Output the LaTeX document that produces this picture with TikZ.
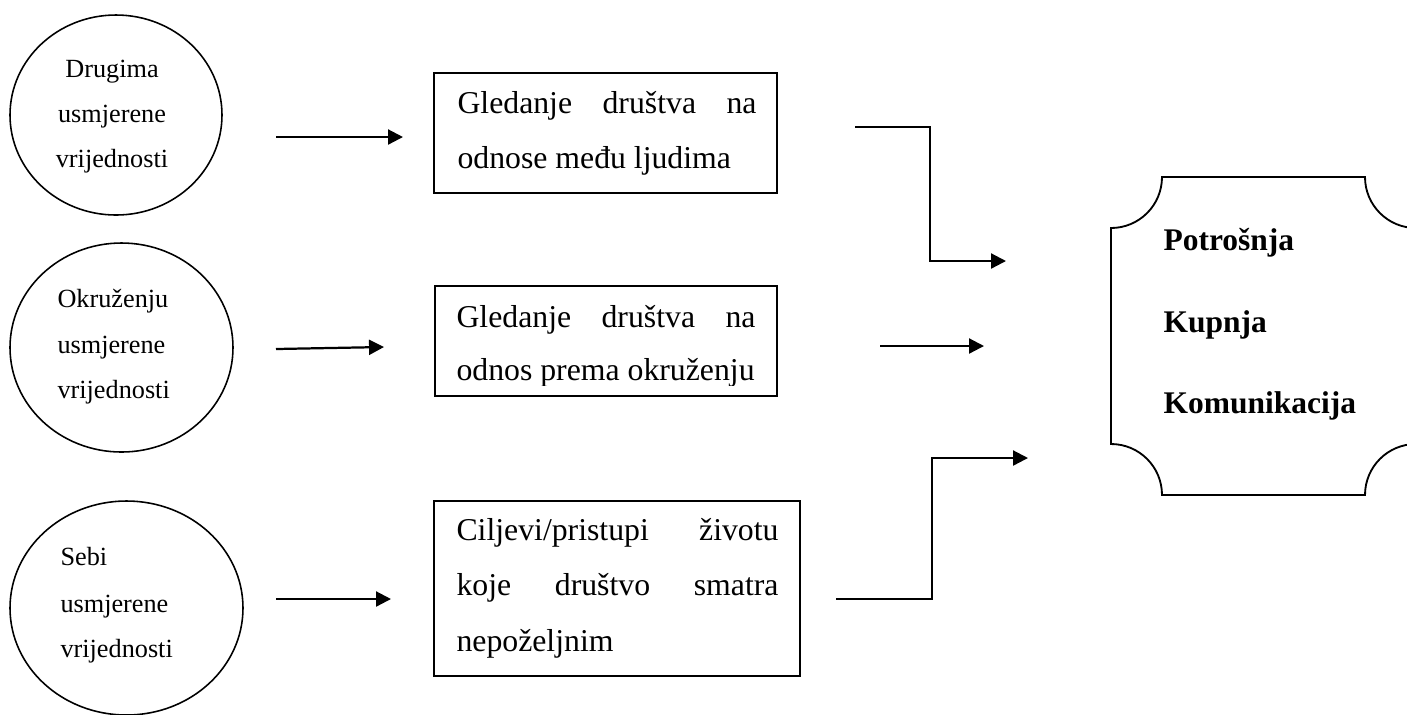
\documentclass[tikz,border=0pt]{standalone}
\usepackage{fontspec}
\setmainfont{Liberation Serif}
\usetikzlibrary{arrows.meta,shapes.geometric,calc}
\begin{document}
\begin{tikzpicture}[x=0.381pt,y=-0.381pt,
  valnode/.style={draw,ellipse,line width=0.6pt,inner sep=0pt},
  boxnode/.style={draw,rectangle,line width=0.7pt,inner sep=0pt},
  ctext/.style={font=\fontsize{10}{12}\selectfont,inner sep=0pt},
  btext/.style={font=\fontsize{12.1}{14}\selectfont,inner sep=0pt,anchor=base west},
  otext/.style={font=\fontsize{12}{14}\selectfont\bfseries,inner sep=0pt,anchor=base west},
  conn/.style={line width=0.85pt,-{Triangle[length=5.7pt,width=5.7pt]}}]
\useasboundingbox (0,0) rectangle (1407,714);
\clip (0,0) rectangle (1407,714);

% value ellipses
\node[valnode,minimum width=80.77pt,minimum height=76.2pt] (c1) at (116,115) {};
\node[valnode,minimum width=84.96pt,minimum height=79.63pt] (c2) at (121.5,347.5) {};
\node[valnode,minimum width=88.77pt,minimum height=81.53pt] (c3) at (126.5,608) {};

\node[ctext,anchor=base] (c1a) at (112,77) {Drugima};
\node[ctext,anchor=base] (c1b) at (112,122) {usmjerene};
\node[ctext,anchor=base] (c1c) at (112,167) {vrijednosti};

\node[ctext,anchor=base west] (c2a) at (57,307) {Okruženju};
\node[ctext,anchor=base west] (c2b) at (57,353) {usmjerene};
\node[ctext,anchor=base west] (c2c) at (57,398) {vrijednosti};

\node[ctext,anchor=base west] (c3a) at (60,565) {Sebi};
\node[ctext,anchor=base west] (c3b) at (60,612) {usmjerene};
\node[ctext,anchor=base west] (c3c) at (60,657) {vrijednosti};

% boxes
\node[boxnode,minimum width=130.68pt,minimum height=45.72pt] (b1) at (605.5,133) {};
\node[boxnode,minimum width=130.3pt,minimum height=41.91pt] (b2) at (606,341) {};
\node[boxnode,minimum width=139.45pt,minimum height=66.68pt] (b3) at (617,588.5) {};

\node[btext] (b1a) at (457,113) {\makebox[113.92pt][s]{Gledanje\hfill društva\hfill na}};
\node[btext] (b1b) at (457,168) {odnose među ljudima};

\begin{scope}
\clip (b2.north west) rectangle (777,385);
\node[btext] (b2a) at (456,327) {\makebox[113.92pt][s]{Gledanje\hfill društva\hfill na}};
\node[btext] (b2b) at (456,380) {odnos prema okruženju};
\end{scope}

\node[btext] (b3a) at (456,540) {\makebox[122.68pt][s]{Ciljevi/pristupi\hfill životu}};
\node[btext] (b3b) at (456,595) {\makebox[122.68pt][s]{koje\hfill društvo\hfill smatra}};
\node[btext] (b3c) at (456,651) {nepoželjnim};

% outcome shape
\node[inner sep=0pt,minimum width=116.2pt,minimum height=121.16pt] (rs) at (1263.5,336) {};
\draw[line width=0.7pt] (1162,177) -- (1365,177)
  .. controls (1365,205.2) and (1387.8,228) .. (1416,228) -- (1416,444)
  .. controls (1387.8,444) and (1365,466.8) .. (1365,495) -- (1162,495)
  .. controls (1162,466.8) and (1139.2,444) .. (1111,444) -- (1111,228)
  .. controls (1139.2,228) and (1162,205.2) .. (1162,177) -- cycle;
\node[otext] (o1) at (1163,250) {Potrošnja};
\node[otext] (o2) at (1163,332) {Kupnja};
\node[otext] (o3) at (1163,413) {Komunikacija};

% connector ends
\coordinate (a1s) at (276,137);
\coordinate (a1e) at (403,137);
\coordinate (a2s) at (276,349);
\coordinate (a2e) at (384,347);
\coordinate (a3s) at (276,599);
\coordinate (a3e) at (391,599);
\coordinate (d1s) at (855,127);
\coordinate (d1k) at (930,127);
\coordinate (d1e) at (1006,261);
\coordinate (d2s) at (880,346);
\coordinate (d2e) at (984,346);
\coordinate (d3s) at (836,599);
\coordinate (d3k) at (932,599);
\coordinate (d3e) at (1028,458);

\draw[conn] (a1s) -- (a1e);
\draw[conn] (a2s) -- (a2e);
\draw[conn] (a3s) -- (a3e);
\draw[conn] (d1s) -- (d1k) |- (d1e);
\draw[conn] (d2s) -- (d2e);
\draw[conn] (d3s) -- (d3k) |- (d3e);
\end{tikzpicture}
\end{document}
